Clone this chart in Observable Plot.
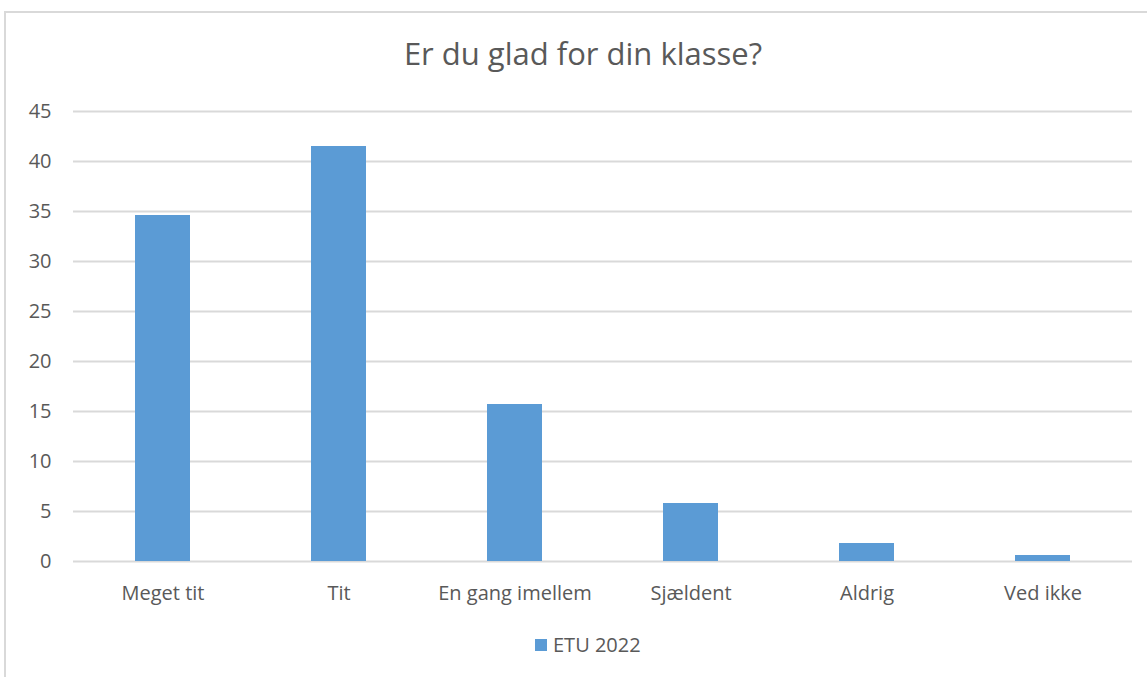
<!DOCTYPE html>
<html>
<head>
<meta charset="utf-8">
<script src="https://cdn.jsdelivr.net/npm/d3@7"></script>
<script src="https://cdn.jsdelivr.net/npm/@observablehq/plot@0.6"></script>
<style>
  html, body { margin: 0; padding: 0; background: #fff; }
  #wrap { position: relative; width: 1147px; height: 677px; overflow: hidden; font-family: "Open Sans", Lato, sans-serif; color: #595959; }
  #frame { position: absolute; left: 4px; top: 11px; width: 1160px; height: 700px; border: 2px solid #d9d9d9; box-sizing: border-box; }
  #title { position: absolute; left: 0; width: 1166px; top: 38px; line-height: 1; text-align: center; font-size: 31px; color: #595959; white-space: nowrap; }
  #chart { position: absolute; left: 0; top: 0; }
  #legend { position: absolute; top: 635px; left: 535px; font-size: 20px; line-height: 1; display: flex; align-items: center; color: #595959; }
  #legend .sw { width: 12px; height: 12px; background: #5B9BD5; margin-right: 6px; }
</style>
</head>
<body>
<div id="wrap">
  <div id="frame"></div>
  <div id="chart"></div>
  <div id="title">Er du glad for din klasse?</div>
  <div id="legend"><span class="sw"></span><span id="legtext"></span></div>
</div>
<script>
const categories = ["Meget tit", "Tit", "En gang imellem", "Sjældent", "Aldrig", "Ved ikke"];
const values = [34.6, 41.5, 15.7, 5.8, 1.8, 0.6];
const yTicks = [0, 5, 10, 15, 20, 25, 30, 35, 40, 45];
const seriesName = "ETU 2022";

const data = categories.map((c, i) => ({category: c, value: values[i]}));
document.getElementById("legtext").textContent = seriesName;

const chart = Plot.plot({
  width: 1147,
  height: 610,
  marginTop: 111,
  marginBottom: 49,
  marginLeft: 73,
  marginRight: 15,
  style: {fontFamily: "'Open Sans', Lato, sans-serif", fontSize: "20px", color: "#595959", background: "transparent"},
  x: {domain: categories, paddingInner: 0.69, paddingOuter: 0.345, label: null},
  y: {domain: [0, 45], ticks: yTicks, label: null},
  marks: [
    Plot.gridY(yTicks, {stroke: "#d9d9d9", strokeOpacity: 1, strokeWidth: 2}),
    Plot.barY(data, {x: "category", y: "value", fill: "#5B9BD5"}),
    Plot.axisY(yTicks, {tickSize: 0, tickPadding: 22, fontSize: 20, fill: "#595959"}),
    Plot.axisX({tickSize: 0, tickPadding: 24, fontSize: 20, fill: "#595959"})
  ]
});
document.getElementById("chart").appendChild(chart);
</script>
</body>
</html>
